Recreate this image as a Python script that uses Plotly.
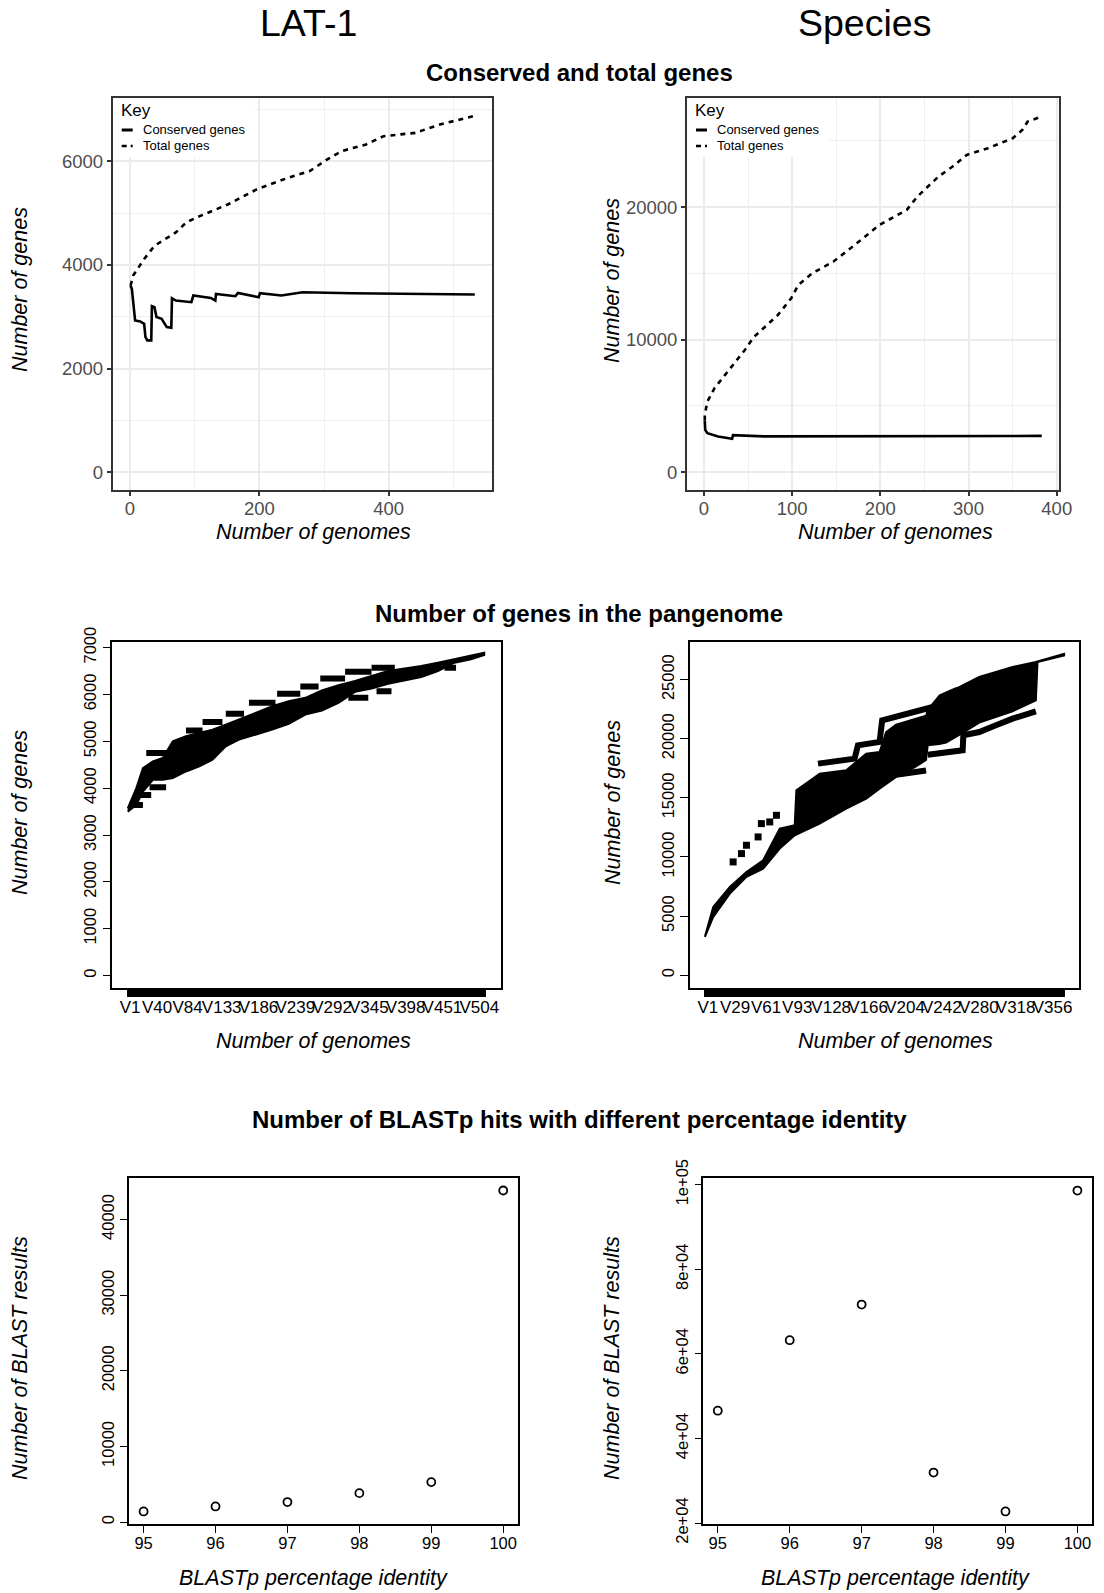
import plotly.graph_objects as go

W, H = 1104, 1593
FONT = "Liberation Sans"

# ---------------- data ----------------
# Conserved / total genes accumulation curves (x = number of genomes)
LAT_CONSERVED_X = [1, 3, 8, 16, 22, 24, 27, 33, 34, 38, 41, 49, 57, 64, 65, 71, 95, 98,
                   125, 132, 133, 163, 167, 199, 201, 234, 267, 343, 533]
LAT_CONSERVED_Y = [3600, 3540, 2930, 2910, 2865, 2610, 2545, 2545, 3205, 3186, 2994, 2961,
                   2801, 2788, 3359, 3314, 3282, 3410, 3365, 3314, 3442, 3397, 3461, 3378,
                   3455, 3410, 3474, 3455, 3429]
LAT_TOTAL_X = [1, 5, 22, 38, 71, 87, 103, 152, 196, 245, 278, 305, 327, 365, 392, 441, 479, 533]
LAT_TOTAL_Y = [3600, 3795, 4115, 4372, 4628, 4821, 4917, 5173, 5461, 5686, 5814, 6038, 6198,
               6327, 6487, 6551, 6712, 6880]

SPECIES_CONSERVED_X = [1, 1.5, 4, 16, 32, 33, 68, 383]
SPECIES_CONSERVED_Y = [3900, 3190, 2940, 2690, 2520, 2800, 2700, 2740]
SPECIES_TOTAL_X = [1, 1, 4, 12, 24, 36, 48, 56, 68, 84, 99, 107, 123, 147, 171, 199, 230, 242,
                   254, 266, 282, 298, 322, 350, 361, 367, 383]
SPECIES_TOTAL_Y = [3900, 4325, 5333, 6340, 7343, 8352, 9358, 10163, 10868, 11872, 13131, 14136,
                   15019, 15901, 17154, 18664, 19796, 20806, 21561, 22316, 23071, 23947, 24452,
                   25207, 25833, 26468, 26845]

# Pangenome size per genome column (V1..Vn): outer envelope of the dense band
LAT_N_GENOMES = 518
LAT_LABELLED = ["V1", "V40", "V84", "V133", "V186", "V239", "V292", "V345", "V398", "V451", "V504"]
LAT_BAND_X = [2, 14.4, 23.9, 38.2, 52.5, 66.9, 85.9, 105.0, 124.1, 143.2, 162.3, 186.2, 210.1,
              233.9, 257.8, 281.6, 305.5, 329.4, 353.2, 377.1, 401.0, 424.8, 448.7, 472.6,
              496.4, 515.5]
LAT_BAND_UPPER = [3571, 4000, 4429, 4571, 4643, 5000, 5107, 5179, 5250, 5357, 5464, 5607, 5750,
                  5857, 5929, 6086, 6200, 6286, 6393, 6500, 6557, 6607, 6679, 6750, 6821, 6893]
LAT_BAND_LOWER = [3500, 3643, 3929, 4179, 4179, 4214, 4357, 4464, 4607, 4893, 5036, 5143, 5250,
                  5371, 5571, 5657, 5821, 6057, 6129, 6229, 6300, 6371, 6500, 6679, 6750, 6843]
# isolated permutation runs: (first column, last column, genes)
LAT_RUNS = [(28.7, 62.1, 4750), (85.9, 109.8, 5229), (109.8, 138.4, 5414), (143.2, 169.5, 5586),
            (176.6, 214.8, 5821), (217.2, 250.6, 6014), (250.6, 276.9, 6171),
            (279.3, 315.1, 6343), (315.1, 353.2, 6486), (353.2, 386.7, 6571),
            (4.8, 23.9, 3643), (19.1, 35.8, 3857), (33.4, 57.3, 4021), (319.8, 348.5, 5929),
            (360.4, 381.9, 6071), (458.2, 474.9, 6571)]

SPECIES_N_GENOMES = 371
SPECIES_LABELLED = ["V1", "V29", "V61", "V93", "V128", "V166", "V204", "V242", "V280", "V318", "V356"]
SPECIES_BAND_X = [1, 9.6, 26.7, 43.8, 61, 78.1, 93.5, 95.2, 112.3, 119.2, 146.6, 167.2, 180.9,
                  187.7, 198, 215.1, 228.8, 230.5, 242.5, 249.4, 266.5, 283.6, 300.8, 317.9,
                  341.9, 343.6, 371]
SPECIES_BAND_UPPER = [3241, 5777, 7468, 8736, 9722, 12399, 12681, 15640, 16626, 17049, 17331,
                      18740, 18881, 20571, 21200, 21600, 21950, 22403, 23389, 23727, 24517,
                      25221, 25644, 26067, 26489, 26546, 27193]
SPECIES_BAND_LOWER = [3241, 4932, 6904, 8313, 9018, 10708, 11836, 11892, 12540, 12822, 14090,
                      14935, 15781, 16204, 16767, 17500, 18200, 19444, 19557, 19670, 20500,
                      21360, 21840, 22319, 23249, 26489, 27053]
SPECIES_TOP_RUN_X = [117.5, 136.3, 155.2, 158.6, 180.9, 183.6, 198, 215.1, 235.7, 244.2, 259.7, 273.4]
SPECIES_TOP_RUN_Y = [17894, 18092, 18317, 19444, 19726, 21558, 21840, 22262, 22685, 23530,
                     24094, 24376]
SPECIES_LOW_RUN_X = [230.5, 249.4, 266.5, 267.2, 283.6, 300.8, 317.9, 341.9]
SPECIES_LOW_RUN_Y = [18655, 18824, 19022, 20290, 20571, 21135, 21699, 22319]
SPECIES_SHORT_RUN_X = [198, 228.8]
SPECIES_SHORT_RUN_Y = [16950, 17315]
SPECIES_SCATTER_X = [30.1, 38.7, 43.8, 55.8, 59.2, 67.8, 74.7]
SPECIES_SCATTER_Y = [9581, 10286, 10990, 11695, 12822, 12963, 13526]

# BLASTp hits by percentage identity
IDENTITY = [95, 96, 97, 98, 99, 100]
LAT_BLAST_HITS = [1400, 2060, 2640, 3820, 5280, 43830]
SPECIES_BLAST_HITS = [46560, 63230, 71650, 31930, 22740, 98610]

# tick labels
TOP_LAT_X_TICKS = [0, 200, 400]
TOP_LAT_Y_TICKS = [0, 2000, 4000, 6000]
TOP_SPECIES_X_TICKS = [0, 100, 200, 300, 400]
TOP_SPECIES_Y_TICKS = [0, 10000, 20000]
MID_LAT_Y_TICKS = [0, 1000, 2000, 3000, 4000, 5000, 6000, 7000]
MID_SPECIES_Y_TICKS = [0, 5000, 10000, 15000, 20000, 25000]
BOT_LAT_Y_TICKS = [0, 10000, 20000, 30000, 40000]
BOT_SPECIES_Y_TICKS = [20000, 40000, 60000, 80000, 100000]
BOT_SPECIES_Y_TEXT = ["2e+04", "4e+04", "6e+04", "8e+04", "1e+05"]

# axis ranges
TOP_LAT_XR, TOP_LAT_YR = [-26.6, 559.6], [-344, 7224]
TOP_SPECIES_XR, TOP_SPECIES_YR = [-19.15, 402], [-1345, 28245]


# ---------------- helpers ----------------
def fx(px):
    return px / W


def fy(py):
    return 1 - py / H


def runs_to_xy(runs):
    xs, ys = [], []
    for a, b, v in runs:
        xs += [a, b, None]
        ys += [v, v, None]
    return xs, ys


def gg_axis(domain, rng, ticks, minor, anchor, standoff=0):
    return dict(domain=domain, range=rng, anchor=anchor, automargin=False,
                tickmode="array", tickvals=ticks, ticktext=[str(t) for t in ticks],
                showline=True, mirror=True, linecolor="#333333", linewidth=1.8,
                ticks="outside", ticklen=4, tickwidth=1.5, tickcolor="#333333",
                ticklabelstandoff=standoff,
                tickfont=dict(family=FONT, size=18.5, color="#4D4D4D"),
                showgrid=True, gridcolor="#EBEBEB", gridwidth=2.2, zeroline=False,
                minor=dict(tickvals=minor, showgrid=True, gridcolor="#EFEFEF", gridwidth=1.3))


def r_axis(domain, rng, anchor, tickvals, ticktext=None, angle=0, ticklen=7, size=16.5,
           standoff=0, shift=0):
    if ticktext is None:
        ticktext = [str(t) for t in tickvals]
    return dict(domain=domain, range=rng, anchor=anchor, automargin=False,
                tickmode="array", tickvals=tickvals, ticktext=ticktext,
                showline=True, mirror=True, linecolor="black", linewidth=1.6,
                ticks="outside", ticklen=ticklen, tickwidth=1.2, tickcolor="black",
                ticklabelstandoff=standoff, ticklabelshift=shift,
                tickfont=dict(family=FONT, size=size, color="black"), tickangle=angle,
                showgrid=False, zeroline=False)


fig = go.Figure()

# ---------------- top row: conserved and total genes ----------------
for xs, ys, name, dash, xa, ya in [
    (LAT_CONSERVED_X, LAT_CONSERVED_Y, "Conserved genes", "solid", "x", "y"),
    (LAT_TOTAL_X, LAT_TOTAL_Y, "Total genes", "5px,5px", "x", "y"),
    (SPECIES_CONSERVED_X, SPECIES_CONSERVED_Y, "Conserved genes", "solid", "x2", "y2"),
    (SPECIES_TOTAL_X, SPECIES_TOTAL_Y, "Total genes", "5px,5px", "x2", "y2"),
]:
    fig.add_trace(go.Scatter(x=xs, y=ys, mode="lines", name=name, showlegend=False,
                             line=dict(color="black", width=2.6, dash=dash), xaxis=xa, yaxis=ya))


# ---------------- middle row: pangenome size ----------------
def band(xs, up, lo, xa, ya):
    fig.add_trace(go.Scatter(x=xs + xs[::-1], y=up + lo[::-1], mode="lines", fill="toself",
                             fillcolor="black", line=dict(color="black", width=2),
                             xaxis=xa, yaxis=ya, showlegend=False, hoverinfo="skip"))


band(LAT_BAND_X, LAT_BAND_UPPER, LAT_BAND_LOWER, "x3", "y3")
rx, ry = runs_to_xy(LAT_RUNS)
fig.add_trace(go.Scatter(x=rx, y=ry, mode="lines", line=dict(color="black", width=6),
                         xaxis="x3", yaxis="y3", showlegend=False))

band(SPECIES_BAND_X, SPECIES_BAND_UPPER, SPECIES_BAND_LOWER, "x4", "y4")
for xs, ys in [(SPECIES_TOP_RUN_X, SPECIES_TOP_RUN_Y), (SPECIES_LOW_RUN_X, SPECIES_LOW_RUN_Y),
               (SPECIES_SHORT_RUN_X, SPECIES_SHORT_RUN_Y)]:
    fig.add_trace(go.Scatter(x=xs, y=ys, mode="lines", line=dict(color="black", width=6),
                             xaxis="x4", yaxis="y4", showlegend=False))
fig.add_trace(go.Scatter(x=SPECIES_SCATTER_X, y=SPECIES_SCATTER_Y, mode="markers",
                         marker=dict(symbol="square", size=7, color="black"),
                         xaxis="x4", yaxis="y4", showlegend=False))

# ---------------- bottom row: BLASTp hits ----------------
for ys, xa, ya in [(LAT_BLAST_HITS, "x5", "y5"), (SPECIES_BLAST_HITS, "x6", "y6")]:
    fig.add_trace(go.Scatter(x=IDENTITY, y=ys, mode="markers",
                             marker=dict(symbol="circle-open", size=8, color="black",
                                         line=dict(width=1.8, color="black")),
                             xaxis=xa, yaxis=ya, showlegend=False))

# ---------------- axes ----------------
TOP_Y = [fy(490), fy(98)]
MID_Y = [fy(988), fy(642)]
BOT_Y = [fy(1524.3), fy(1177.7)]
TOP_LAT_X = [fx(112.7), fx(492)]
TOP_SPECIES_X = [fx(687), fx(1058.5)]

lat_genomes = ["V%d" % i for i in range(1, LAT_N_GENOMES + 1)]
species_genomes = ["V%d" % i for i in range(1, SPECIES_N_GENOMES + 1)]
lat_text = [g if g in LAT_LABELLED else "" for g in lat_genomes]
species_text = [g if g in SPECIES_LABELLED else "" for g in species_genomes]

layout = dict(
    template="none",
    width=W, height=H, margin=dict(l=0, r=0, t=0, b=0, pad=0),
    paper_bgcolor="white", plot_bgcolor="white", showlegend=False,
    font=dict(family=FONT, color="black"),
    xaxis=gg_axis(TOP_LAT_X, TOP_LAT_XR, TOP_LAT_X_TICKS, [100, 300, 500], "y", standoff=-3),
    yaxis=gg_axis(TOP_Y, TOP_LAT_YR, TOP_LAT_Y_TICKS, [1000, 3000, 5000, 7000], "x"),
    xaxis2=gg_axis(TOP_SPECIES_X, TOP_SPECIES_XR, TOP_SPECIES_X_TICKS, [50, 150, 250, 350],
                   "y2", standoff=-3),
    yaxis2=gg_axis(TOP_Y, TOP_SPECIES_YR, TOP_SPECIES_Y_TICKS, [5000, 15000, 25000], "x2"),
    xaxis3=r_axis([fx(112.3), fx(500.7)], [-20.22, 539.22], "y3",
                  list(range(1, LAT_N_GENOMES + 1)), lat_text, ticklen=7, size=17,
                  standoff=-4, shift=3),
    yaxis3=r_axis(MID_Y, [-265, 7120], "x3", MID_LAT_Y_TICKS, angle=-90, ticklen=8),
    xaxis4=r_axis([fx(690), fx(1079)], [-14.34, 386.34], "y4",
                  list(range(1, SPECIES_N_GENOMES + 1)), species_text, ticklen=7, size=17,
                  standoff=-4, shift=3),
    yaxis4=r_axis(MID_Y, [-1084, 28184], "x4", MID_SPECIES_Y_TICKS, angle=-90, ticklen=8),
    xaxis5=r_axis([fx(129.2), fx(517.6)], [94.8, 100.2], "y5", IDENTITY, standoff=-4),
    yaxis5=r_axis(BOT_Y, [-299, 45522], "x5", BOT_LAT_Y_TICKS, angle=-90),
    xaxis6=r_axis([fx(703.4), fx(1091.8)], [94.8, 100.2], "y6", IDENTITY, standoff=-4),
    yaxis6=r_axis(BOT_Y, [19701, 101643], "x6", BOT_SPECIES_Y_TICKS, BOT_SPECIES_Y_TEXT,
                  angle=-90),
)


# ---------------- text ----------------
def note(text, x, y, size, angle=0, anchor="center"):
    return dict(text=text, x=fx(x), y=fy(y), xref="paper", yref="paper", showarrow=False,
                xanchor=anchor, yanchor="middle", textangle=angle,
                font=dict(family=FONT, size=size, color="black"))


annotations = [
    note("LAT-1", 308, 23, 37.5),
    note("Species", 864, 23, 37.5),
    note("<b>Conserved and total genes</b>", 579, 72, 24),
    note("<b>Number of genes in the pangenome</b>", 579, 613, 24),
    note("<b>Number of BLASTp hits with different percentage identity</b>", 579, 1119, 24),
    # top row axis titles
    note("<i>Number of genes</i>", 20, 290, 21.5, -90),
    note("<i>Number of genomes</i>", 313, 532, 21.5),
    note("<i>Number of genes</i>", 612, 281, 21.5, -90),
    note("<i>Number of genomes</i>", 895, 532, 21.5),
    # middle row axis titles
    note("<i>Number of genes</i>", 20, 813, 21.5, -90),
    note("<i>Number of genomes</i>", 313, 1041, 21.5),
    note("<i>Number of genes</i>", 613, 803, 21.5, -90),
    note("<i>Number of genomes</i>", 895, 1041, 21.5),
    # bottom row axis titles
    note("<i>Number of BLAST results</i>", 20, 1358, 21.5, -90),
    note("<i>BLASTp percentage identity</i>", 313, 1578, 21.5),
    note("<i>Number of BLAST results</i>", 612, 1358, 21.5, -90),
    note("<i>BLASTp percentage identity</i>", 895, 1578, 21.5),
]

# ggplot-style keys inside the top panels (white key background hides the grid)
KEY_W, KEY_H, PANEL_H = 142, 59, 392
shapes = []
for xref, yref, xdom, xr, yr in [("x", "y", TOP_LAT_X, TOP_LAT_XR, TOP_LAT_YR),
                                 ("x2", "y2", TOP_SPECIES_X, TOP_SPECIES_XR, TOP_SPECIES_YR)]:
    left = xdom[0] * W
    panel_w = (xdom[1] - xdom[0]) * W
    x1 = xr[0] + KEY_W / panel_w * (xr[1] - xr[0])
    y0 = yr[1] - KEY_H / PANEL_H * (yr[1] - yr[0])
    shapes.append(dict(type="rect", xref=xref, yref=yref, x0=xr[0], x1=x1, y0=y0, y1=yr[1],
                       fillcolor="white", line=dict(width=0), layer="between"))
    shapes.append(dict(type="line", xref="paper", yref="paper", x0=fx(left + 9),
                       x1=fx(left + 20), y0=fy(130), y1=fy(130),
                       line=dict(color="black", width=3)))
    shapes.append(dict(type="line", xref="paper", yref="paper", x0=fx(left + 9),
                       x1=fx(left + 20), y0=fy(146), y1=fy(146),
                       line=dict(color="black", width=2.6, dash="5px,4px")))
    annotations += [
        note("Key", left + 6, 110, 17, anchor="left"),
        note("Conserved genes", left + 28, 130, 13, anchor="left"),
        note("Total genes", left + 28, 146, 13, anchor="left"),
    ]

layout["annotations"] = annotations
layout["shapes"] = shapes

fig.update_layout(**layout)
fig.write_html("out.html")
